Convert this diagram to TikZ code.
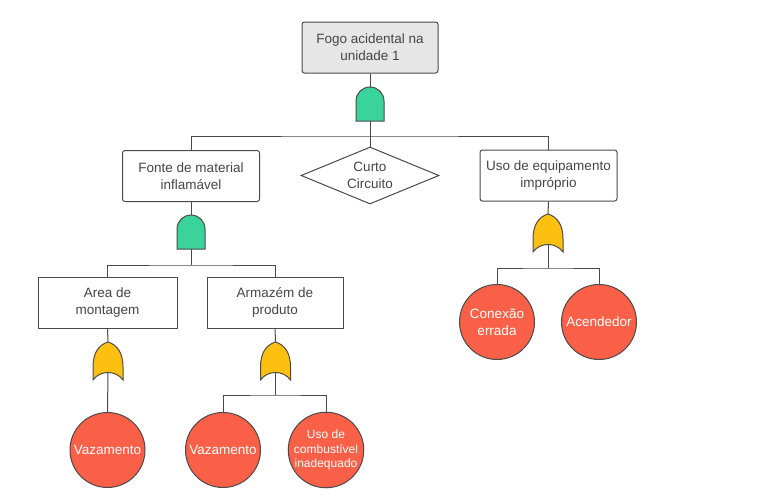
\documentclass[tikz,border=0pt]{standalone}
\usepackage{fontspec}
\setmainfont{Liberation Sans}
\usetikzlibrary{shapes.geometric,backgrounds}
\definecolor{ln}{HTML}{4A4A4A}
\definecolor{txt}{HTML}{454545}
\definecolor{andc}{HTML}{3AD39C}
\definecolor{orc}{HTML}{FDBF10}
\definecolor{evc}{HTML}{FA5F47}
\definecolor{topc}{HTML}{E6E6E6}
\tikzset{
  basebox/.style={draw=ln, line width=1pt, minimum width=137pt, minimum height=51pt,
    align=center, font=\fontsize{13.5}{17}\selectfont, text=txt, inner sep=0pt},
  rbox/.style={basebox, rounded corners=2.5pt},
  sbox/.style={basebox},
  dia/.style={diamond, draw=ln, line width=1pt, aspect=2.5, minimum width=138pt,
    minimum height=57pt, inner sep=0pt, align=center,
    font=\fontsize{13.5}{17}\selectfont, text=txt},
  event/.style={circle, draw=ln, line width=1pt, fill=evc, minimum size=75pt,
    inner sep=0pt, align=center, text=white, font=\fontsize{13.5}{17}\selectfont},
  smallev/.style={event, font=\fontsize{12}{14.5}\selectfont},
  conn/.style={draw=ln, line width=1pt},
  andgate/.pic={
    \coordinate (-top) at (0,0);
    \coordinate (-bot) at (0,34);
    \draw[draw=ln, line width=1pt, fill=andc] (-14,34) -- (-14,14)
      arc[start angle=180, end angle=360, radius=14] -- (14,34) -- cycle;
  },
  orgate/.pic={
    \coordinate (-top) at (0,0);
    \coordinate (-bot) at (0,30);
    \draw[draw=ln, line width=1pt, fill=orc] (0,0) .. controls (10,3) and (15,12) .. (15,25)
      -- (15,38)
      .. controls (8,28) and (-8,28) .. (-15,38) -- (-15,25)
      .. controls (-15,12) and (-10,3) .. cycle;
  }
}
\begin{document}
\begin{tikzpicture}[x=1pt,y=-1pt]
\useasboundingbox (0,0) rectangle (768,498);

% nodes
\node[rbox, fill=topc, minimum width=136pt] (top) at (370,47.5) {Fogo acidental na\\unidade 1};
\node[rbox] (fonte) at (191,176) {Fonte de material\\inflamável};
\node[dia] (curto) at (370,175.5) {Curto\\Circuito};
\node[rbox] (uso) at (548.5,175.5) {Uso de equipamento\\impróprio};
\node[sbox, minimum width=139pt] (area) at (107.5,302.5) {Area de\\montagem};
\node[sbox, minimum width=136pt] (arm) at (275,302.5) {Armazém de\\produto};
\node[event] (v1) at (107.5,450) {Vazamento};
\node[event] (v2) at (223,450) {Vazamento};
\node[smallev] (comb) at (326,450) {Uso de\\combustível\\inadequado};
\node[event] (con) at (497,322) {Conexão\\errada};
\node[event] (ace) at (599,322) {Acendedor};

% gates
\pic (g1) at (370,87) {andgate};
\pic (g2) at (191,215) {andgate};
\pic (g3) at (108,342) {orgate};
\pic (g4) at (275.5,342) {orgate};
\pic (g5) at (548,214) {orgate};

\coordinate (bus1) at (370,136);
\coordinate (bus2) at (191,265);
\coordinate (bus4) at (275.5,395);
\coordinate (bus5) at (548,268);

\begin{scope}[on background layer]
\fill[white] (0,0) rectangle (768,498);
\draw[conn] (top.south) -- (g1-top);
\draw[conn] (g1-bot) -- (bus1);
\draw[conn] (fonte.north) |- (bus1) -| (uso.north);
\draw[conn] (bus1) -- (curto.north);
\draw[conn] (fonte.south) -- (g2-top);
\draw[conn] (g2-bot) -- (bus2);
\draw[conn] (area.north) |- (bus2) -| (arm.north);
\draw[conn] (area.south) -- (g3-top);
\draw[conn] (g3-bot) -- (v1.north);
\draw[conn] (arm.south) -- (g4-top);
\draw[conn] (g4-bot) -- (bus4);
\draw[conn] (v2.north) |- (bus4) -| (comb.north);
\draw[conn] (uso.south) -- (g5-top);
\draw[conn] (g5-bot) -- (bus5);
\draw[conn] (con.north) |- (bus5) -| (ace.north);
\end{scope}
\end{tikzpicture}
\end{document}
